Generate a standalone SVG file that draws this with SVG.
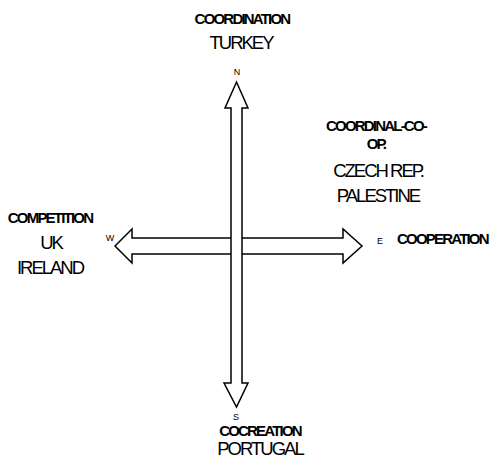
<svg xmlns="http://www.w3.org/2000/svg" width="490" height="464" viewBox="0 0 490 464">
<style>
.arrow{fill:#fff;stroke:#000;stroke-width:1.5;stroke-linejoin:miter}
.b{font-family:"Liberation Sans",Arial,sans-serif;font-weight:bold;font-size:15px;letter-spacing:-1.8px;fill:#000}
.r{font-family:"Liberation Sans",Arial,sans-serif;font-size:18.5px;letter-spacing:-2px;fill:#000}
.s{font-family:"Liberation Sans",Arial,sans-serif;font-size:9px;fill:#000}
</style>
<rect width="490" height="464" fill="#fff"/>
<g id="connectors">
<polygon class="arrow" points="115,246 132,229 132,238 343,238 343,229 362,246 343,263 343,254 132,254 132,263"/>
<polygon class="arrow" points="236.5,82 248,108 242,108 242,383 248,383 236.5,407 224,383 231,383 231,108 225,108"/>
</g>
<g id="north">
<text class="s" x="237" y="75" text-anchor="middle">N</text>
<text class="b" x="242" y="24" text-anchor="middle">COORDINATION</text>
<text class="r" x="241" y="49" text-anchor="middle">TURKEY</text>
</g>
<g id="northeast">
<text class="b" x="376" y="131" text-anchor="middle">COORDINAL-CO-</text>
<text class="b" x="376" y="149" text-anchor="middle">OP.</text>
<text class="r" x="378" y="177" text-anchor="middle">CZECH REP.</text>
<text class="r" x="378" y="202" text-anchor="middle">PALESTINE</text>
</g>
<g id="west">
<text class="s" x="110" y="241" text-anchor="middle">W</text>
<text class="b" x="50" y="223" text-anchor="middle">COMPETITION</text>
<text class="r" x="51" y="249" text-anchor="middle">UK</text>
<text class="r" x="50" y="274" text-anchor="middle">IRELAND</text>
</g>
<g id="east">
<text class="s" x="377" y="244">E</text>
<text class="b" x="397" y="244">COOPERATION</text>
</g>
<g id="south">
<text class="s" x="236" y="420" text-anchor="middle">S</text>
<text class="b" x="260" y="436" text-anchor="middle">COCREATION</text>
<text class="r" x="260" y="455" text-anchor="middle">PORTUGAL</text>
</g>
</svg>
